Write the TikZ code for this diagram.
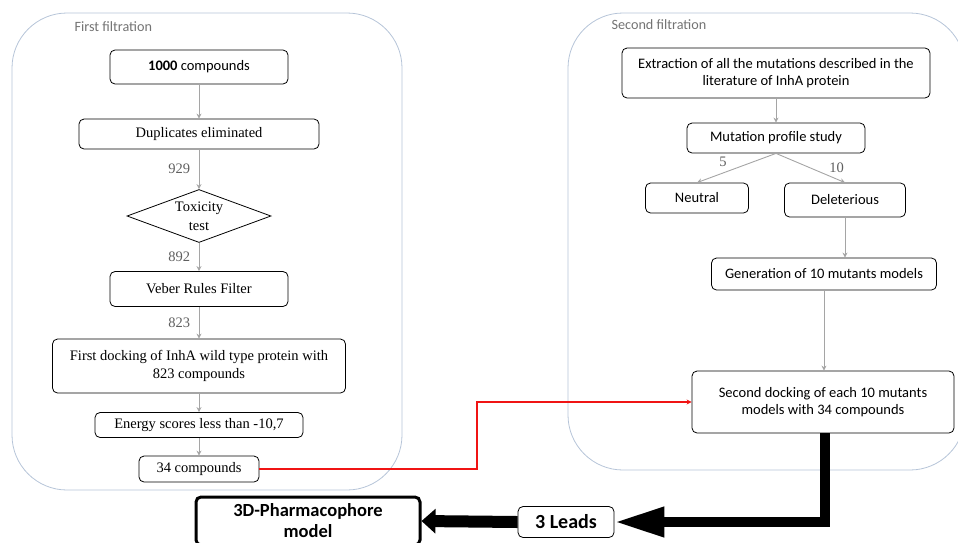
\documentclass[tikz,border=0pt]{standalone}
\usepackage{fontspec}
\setmainfont{Liberation Serif}
\newfontfamily\calib{Carlito}
\usetikzlibrary{arrows.meta,positioning,shapes.geometric,calc}
\definecolor{panelblue}{RGB}{182,196,216}
\definecolor{flowgray}{RGB}{165,165,165}
\definecolor{numgray}{RGB}{95,95,95}
\definecolor{lblgray}{RGB}{115,115,115}
\definecolor{link}{RGB}{240,20,20}
\tikzset{
  >={Stealth[length=5pt,width=5pt]},
  stage/.style={draw=black,fill=white,rounded corners=5pt,line width=0.8pt,
    align=center,inner sep=0pt,font=\fontsize{14.5}{17.5}\selectfont},
  stage sf/.style={stage,font=\calib\fontsize{14.5}{17}\selectfont},
  flow/.style={->,draw=flowgray,line width=0.9pt},
  num/.style={font=\fontsize{14.5}{16}\selectfont,text=numgray},
  panel/.style={draw=panelblue,line width=0.8pt,rounded corners=55pt},
  paneltitle/.style={font=\calib\fontsize{14.2}{16}\selectfont,text=lblgray,anchor=west},
  lead/.style={stage,font=\calib\bfseries\fontsize{20}{22}\selectfont},
}

\begin{document}
\begin{tikzpicture}[x=1pt,y=-1pt]
  \useasboundingbox (0,0) rectangle (958,542);
  \clip (0,0) rectangle (958,542);
  % filtration panels
  \draw[panel] (12,13) rectangle (402,490);
  \draw[panel] (568,13) rectangle (965,470);
  \node[paneltitle] (t1) at (71,27) {First filtration};
  \node[paneltitle] (t2) at (608,25) {Second filtration};

  % first filtration
  \node[stage sf,minimum width=178pt,minimum height=34pt] (c1000) at (199,67) {\textbf{1000} compounds};
  \node[stage,minimum width=240pt,minimum height=30pt] (dup) at (199,134) {Duplicates eliminated};
  \node[diamond,draw=black,fill=white,line width=0.8pt,aspect=2.7,inner sep=0pt,
    align=center,font=\fontsize{14.5}{19}\selectfont,minimum width=144pt,minimum height=53pt] (tox) at (199,216) {Toxicity\\test};
  \node[stage,minimum width=178pt,minimum height=35pt] (veber) at (199,289) {Veber Rules Filter};
  \node[stage,minimum width=293pt,minimum height=54pt] (dock1) at (199,366) {First docking of InhA wild type protein with\\823 compounds};
  \node[stage,minimum width=208pt,minimum height=25pt] (energy) at (199,425) {Energy scores less than -10,7};
  \node[stage,minimum width=120pt,minimum height=26pt] (c34) at (199,469) {34 compounds};

  \draw[flow] (c1000) -- (dup);
  \draw[flow] (dup) -- node[num,left=5pt] {929} (tox);
  \draw[flow] (tox) -- node[num,left=5pt] {892} (veber);
  \draw[flow] (veber) -- node[num,left=5pt] {823} (dock1);
  \draw[flow] (dock1) -- (energy);
  \draw[flow] (energy) -- (c34);

  % second filtration
  \node[stage sf,minimum width=308pt,minimum height=50pt] (extract) at (776,73) {Extraction of all the mutations described in the\\literature of InhA protein};
  \node[stage sf,minimum width=178pt,minimum height=30pt] (profile) at (776,138) {Mutation profile study};
  \node[stage sf,minimum width=103pt,minimum height=30pt] (neutral) at (697,198) {Neutral};
  \node[stage sf,minimum width=121pt,minimum height=34pt] (delet) at (845,200) {Deleterious};
  \node[stage sf,minimum width=225pt,minimum height=32pt] (gen) at (824,274) {Generation of 10 mutants models};
  \node[stage sf,minimum width=262pt,minimum height=62pt] (dock2) at (823,402) {Second docking of each 10 mutants\\models with 34 compounds};

  \draw[flow] (extract) -- (profile);
  \draw[flow] (profile.south) -- node[num,pos=0.67,above=3pt] {5} (neutral.north);
  \draw[flow] (profile.south) -- node[num,pos=0.88,above=3pt] {10} (delet.north);
  \draw[flow] (delet.south) -- (delet.south |- gen.north);
  \draw[flow] (gen.south) -- (gen.south |- dock2.north);

  % link between the panels
  \coordinate (bend) at (477,403);
  \draw[link,line width=1.1pt,->] (c34.east) -- (c34.east -| bend) |- (dock2.west);

  % results
  \node[lead,minimum width=96pt,minimum height=31pt] (leads) at (566,522) {3 Leads};
  \node[stage,line width=3pt,font=\calib\bfseries\fontsize{18.5}{21}\selectfont,
    minimum width=224pt,minimum height=48pt] (pharma) at (308,521) {3D-Pharmacophore\\model};
  \draw[line width=10pt,-{Triangle[length=50pt,width=28pt]}] ([xshift=2pt]dock2.south) |- (leads.east);
  \draw[line width=12pt,-{Triangle[length=14pt,width=24pt]}] (leads.west) -- (pharma.east);
\end{tikzpicture}
\end{document}
